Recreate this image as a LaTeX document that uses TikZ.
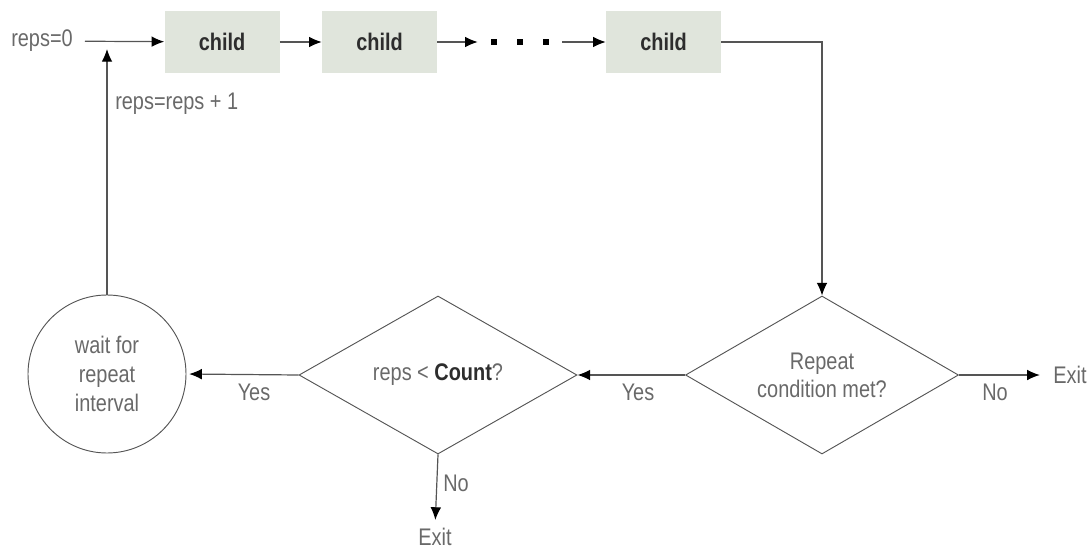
\documentclass[tikz,border=0pt]{standalone}
\usepackage{fontspec}
\setmainfont{Liberation Sans}[FakeStretch=0.83]
\usetikzlibrary{shapes.geometric,arrows.meta}
\definecolor{boxfill}{RGB}{224,229,220}
\definecolor{txt}{RGB}{105,105,105}
\definecolor{dark}{RGB}{45,45,45}
\definecolor{ln}{RGB}{85,85,85}
\begin{document}
\begin{tikzpicture}[x=0.75pt,y=-0.75pt, font=\fontsize{18}{21}\selectfont,
  lbl/.style={text=txt, inner sep=0},
  childbox/.style={fill=boxfill, minimum width=86.25pt, minimum height=46.5pt, inner sep=0, text=dark, font=\fontsize{18}{21}\selectfont\bfseries},
  decision/.style={diamond, draw=ln, line width=0.7pt, aspect=1.73, inner sep=0, minimum width=204.75pt, minimum height=118.5pt, text=txt, align=center},
  conn/.style={draw=ln, line width=0.9pt, -{Latex[length=9.5pt,width=8pt,black]}},
]
\useasboundingbox (0,0) rectangle (1088,549);

\node[lbl] (start) at (42,41) {reps=0};
\node[childbox] (c1) at (222,42) {child};
\node[childbox] (c2) at (379.5,42) {child};
\node[inner sep=0, inner xsep=9.75pt, text=black] (dots) at (520,42) {\rule{4.5pt}{4.5pt}\hspace{15pt}\rule{4.5pt}{4.5pt}\hspace{15pt}\rule{4.5pt}{4.5pt}};
\node[childbox] (c3) at (663.5,42) {child};
\node[decision] (d1) at (822,375) {Repeat\\condition met?};
\node[decision, minimum width=208.5pt] (d2) at (438,375) {reps < \textcolor{dark}{\bfseries Count}?};
\node[circle, draw=ln, line width=0.7pt, minimum size=118.5pt, inner sep=0, align=center, text=txt, font=\fontsize{18}{21.75}\selectfont] (wait) at (107,374) {wait for\\repeat\\interval};
\node[lbl] (exit1) at (1070,375) {Exit};
\node[lbl] (exit2) at (435,537) {Exit};
\coordinate (loopend) at (107,49);

\draw[conn, shorten <=9pt] (start) -- (c1);
\draw[conn] (c1) -- (c2);
\draw[conn] (c2) -- (dots);
\draw[conn] (dots) -- (c3);
\draw[conn] (c3.east) -| (d1.north);
\draw[conn, shorten >=10pt] (d1.east) -- (exit1.west);
\draw[conn] (d1.west) -- (d2.east);
\draw[conn, shorten >=2pt] (d2.west) -- (wait.east);
\draw[conn, shorten >=6pt] (d2.south) -- (exit2.north);
\draw[conn] (wait.north) -- (loopend);

\node[lbl] (no1) at (995,392) {No};
\node[lbl] (yes1) at (638,392) {Yes};
\node[lbl] (yes2) at (254,392) {Yes};
\node[lbl] (no2) at (456,483) {No};
\node[lbl, anchor=west] (inc) at (115,104) {reps=reps + 1};
\end{tikzpicture}
\end{document}
